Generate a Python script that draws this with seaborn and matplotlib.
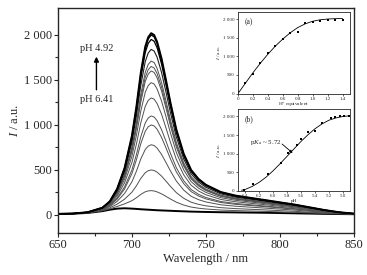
import numpy as np
import pandas as pd
import seaborn as sns
from matplotlib import pyplot as plt

sns.set_style("ticks")
plt.rcParams['font.family'] = ['Liberation Serif', 'DejaVu Serif']
plt.rcParams['mathtext.fontset'] = 'custom'
plt.rcParams['mathtext.it'] = 'Liberation Serif:italic'
plt.rcParams['mathtext.rm'] = 'Liberation Serif'

# emission spectra
wavelength = [650, 660, 670, 680, 685, 690, 695, 700, 703, 706, 709, 711, 713, 715, 717,
              720, 723, 726, 730, 735, 740, 745, 750, 760, 770, 780, 790, 800, 810, 820,
              830, 840, 850]
top_curve = [10, 15, 30, 80, 150, 290, 520, 880, 1200, 1580, 1870, 1975, 2020, 2000, 1925,
             1740, 1500, 1250, 950, 680, 500, 400, 335, 255, 215, 190, 165, 140, 115, 85,
             55, 30, 15]
bottom_curve = [12, 14, 22, 42, 58, 70, 74, 70, 67, 63, 60, 58, 56, 54, 52,
                50, 48, 46, 43, 40, 37, 35, 33, 30, 28, 26, 24, 21, 18, 15,
                12, 10, 8]
# peak heights at 713 nm, pH 6.41 -> pH 4.92
peaks = [56, 270, 500, 780, 1000, 1100, 1300, 1470, 1600, 1650, 1710, 1840, 1950, 2000, 2020]

# inset (a): titration with H+
h_equiv = [0, 0.1, 0.2, 0.3, 0.4, 0.5, 0.6, 0.7, 0.8, 0.9, 1.0, 1.1, 1.2, 1.3, 1.4]
h_int = [40, 270, 520, 810, 1080, 1290, 1460, 1620, 1660, 1900, 1930, 1965, 1975, 1985, 1990]
h_fit = [0, 280, 560, 820, 1060, 1280, 1470, 1640, 1780, 1880, 1950, 1990, 2010, 2020, 2025]

# inset (b): pH dependence
ph = [6.41, 6.28, 6.07, 5.89, 5.78, 5.66, 5.60, 5.50, 5.40, 5.30, 5.17, 5.12, 5.04, 4.99, 4.92]
ph_int = [30, 190, 450, 745, 1015, 1240, 1400, 1570, 1615, 1820, 1965, 1985, 2000, 2005, 2010]
ph_fit_x = [6.45, 6.4, 6.3, 6.2, 6.1, 6.0, 5.9, 5.8, 5.7, 5.6, 5.5, 5.4, 5.3, 5.2, 5.1, 5.0, 4.92]
ph_fit_y = [20, 40, 120, 230, 370, 540, 730, 930, 1130, 1330, 1510, 1670, 1800, 1900, 1960, 2000, 2015]

wl = np.array(wavelength)
top = np.array(top_curve, dtype=float)
bot = np.array(bottom_curve, dtype=float)
ipk = wavelength.index(713)
rows = []
for i, p in enumerate(peaks):
    f = (p - bot[ipk]) / (top[ipk] - bot[ipk])
    y = bot + f * (top - bot)
    for w, v in zip(wl, y):
        rows.append((i, w, v))
spec = pd.DataFrame(rows, columns=["curve", "wl", "I"])

fig = plt.figure(figsize=(3.67, 2.75), dpi=100)
ax = fig.add_axes([0.158, 0.153, 0.806, 0.818])

n = len(peaks)
colors = ["black"] + ["#505050"] * (n - 5) + ["#202020", "black", "black", "black"]
widths = [1.4] + [0.7] * (n - 5) + [0.8, 0.9, 1.0, 1.4]
for i in range(n):
    sns.lineplot(data=spec[spec.curve == i], x="wl", y="I", ax=ax, color=colors[i],
                 lw=widths[i], legend=False)

ax.set_xlim(650, 850)
ax.set_ylim(-200, 2300)
ax.set_xticks([650, 700, 750, 800, 850])
ax.set_xticks([675, 725, 775, 825], minor=True)
ax.set_yticks([0, 500, 1000, 1500, 2000])
ax.set_yticks([250, 750, 1250, 1750], minor=True)
ax.set_yticklabels(["0", "500", "1 000", "1 500", "2 000"])
ax.tick_params(labelsize=9, length=3, width=0.8, pad=1.5)
ax.tick_params(which="minor", length=2, width=0.8)
for s in ax.spines.values():
    s.set_linewidth(1.0)
ax.set_xlabel("Wavelength / nm", fontsize=9, labelpad=1)
ax.set_ylabel("$\\mathit{I}$ / a.u.", fontsize=9, labelpad=2)

ax.annotate("", xy=(676, 1790), xytext=(676, 1360),
            arrowprops=dict(arrowstyle="-|>", color="black", lw=1.0, mutation_scale=7))
ax.text(676, 1850, "pH 4.92", fontsize=7.5, ha="center", va="center")
ax.text(676, 1280, "pH 6.41", fontsize=7.5, ha="center", va="center")

# inset (a)
axa = fig.add_axes([238 / 367, 1 - 93.5 / 275, 112 / 367, 81.5 / 275])
sns.lineplot(x=h_equiv, y=h_fit, ax=axa, color="black", lw=0.6)
sns.scatterplot(x=h_equiv, y=h_int, ax=axa, color="black", marker="s", s=3.5, linewidth=0)
axa.set_xlim(0, 1.5)
axa.set_ylim(0, 2200)
axa.set_xticks([0, 0.2, 0.4, 0.6, 0.8, 1.0, 1.2, 1.4])
axa.set_xticklabels(["0", "0.2", "0.4", "0.6", "0.8", "1.0", "1.2", "1.4"])
axa.set_yticks([0, 500, 1000, 1500, 2000])
axa.set_yticklabels(["0", "500", "1 000", "1 500", "2 000"])
axa.set_xlabel("H$^{+}$ equivalent", fontsize=3.8, labelpad=0.5)
axa.set_ylabel("$\\mathit{I}$ / a.u.", fontsize=3.8, labelpad=0.5)
axa.text(0.06, 0.93, "(a)", transform=axa.transAxes, fontsize=5.5, va="top")

# inset (b)
axb = fig.add_axes([238 / 367, 1 - 191 / 275, 112 / 367, 82 / 275])
sns.lineplot(x=ph_fit_x, y=ph_fit_y, ax=axb, color="black", lw=0.6, sort=False)
sns.scatterplot(x=ph, y=ph_int, ax=axb, color="black", marker="s", s=3.5, linewidth=0)
axb.set_xlim(6.5, 4.9)
axb.set_ylim(0, 2200)
axb.set_xticks([6.4, 6.2, 6.0, 5.8, 5.6, 5.4, 5.2, 5.0])
axb.set_xticklabels(["6.4", "6.2", "6.0", "5.8", "5.6", "5.4", "5.2", "5.0"])
axb.set_yticks([0, 500, 1000, 1500, 2000])
axb.set_yticklabels(["0", "500", "1 000", "1 500", "2 000"])
axb.set_xlabel("pH", fontsize=3.8, labelpad=0.5)
axb.set_ylabel("$\\mathit{I}$ / a.u.", fontsize=3.8, labelpad=0.5)
axb.text(0.06, 0.93, "(b)", transform=axb.transAxes, fontsize=5.5, va="top")
axb.text(5.88, 1300, "p$\\mathit{K}_{\\rm a}$ ~ 5.72", fontsize=5, ha="right", va="center")
axb.annotate("", xy=(5.72, 1020), xytext=(5.87, 1260),
             arrowprops=dict(arrowstyle="-|>", color="black", lw=0.6, mutation_scale=4,
                             shrinkA=0, shrinkB=0))

for a in (axa, axb):
    a.set_facecolor("white")
    a.tick_params(labelsize=3.6, length=1.5, width=0.5, pad=0.8)
    for s in a.spines.values():
        s.set_linewidth(0.6)

fig.savefig("out.png", dpi=100)
